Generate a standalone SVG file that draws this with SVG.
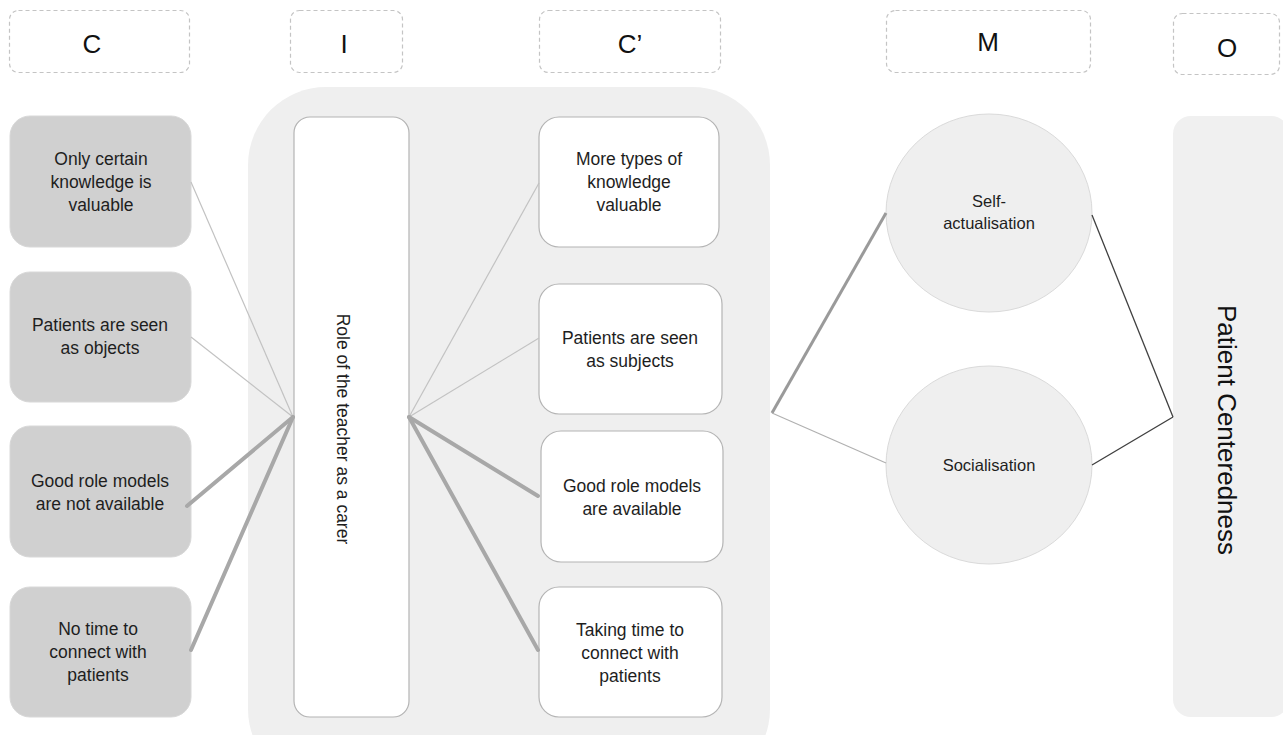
<svg xmlns="http://www.w3.org/2000/svg" width="1283" height="735" viewBox="0 0 1283 735">
<style>
.hdr{fill:#fff;stroke:#c4c4c4;stroke-width:1.2;stroke-dasharray:4 3}
.hdrt{font-family:"Liberation Sans",Arial,sans-serif;font-size:26px;fill:#111;text-anchor:middle}
.cbox{fill:#d0d0d0;stroke:#d8d8d8;stroke-width:1}
.wbox{fill:#fff;stroke:#b4b4b4;stroke-width:1.2}
.t{font-family:"Liberation Sans",Arial,sans-serif;font-size:17.5px;fill:#1e1e1e;text-anchor:middle}
.tm{font-family:"Liberation Sans",Arial,sans-serif;font-size:16.5px;fill:#1e1e1e;text-anchor:middle}
.circ{fill:#efefef;stroke:#dadada;stroke-width:1}
.thin{stroke:#c2c2c2;stroke-width:1.2;fill:none}
.thick{stroke:#a8a8a8;stroke-width:4;fill:none;stroke-linecap:round}
.mthick{stroke:#9a9a9a;stroke-width:3;fill:none}
.mthin{stroke:#b0b0b0;stroke-width:1.2;fill:none}
.dark{stroke:#404040;stroke-width:1.3;fill:none}
</style>

<g id="headers">
  <g id="hdr-C"><rect class="hdr" x="9.5" y="10.5" width="180" height="62" rx="9"/><text class="hdrt" x="92" y="53">C</text></g>
  <g id="hdr-I"><rect class="hdr" x="290.5" y="10.5" width="112" height="62" rx="9"/><text class="hdrt" x="344" y="53">I</text></g>
  <g id="hdr-C2"><rect class="hdr" x="539.5" y="10.5" width="181" height="62" rx="9"/><text class="hdrt" x="630" y="53">C’</text></g>
  <g id="hdr-M"><rect class="hdr" x="886.5" y="10.5" width="204" height="62" rx="9"/><text class="hdrt" x="988" y="51">M</text></g>
  <g id="hdr-O"><rect class="hdr" x="1173.5" y="13.5" width="106" height="61" rx="9"/><text class="hdrt" x="1227" y="57">O</text></g>
</g>

<g id="panel">
  <rect x="248" y="87" width="522" height="700" rx="78" fill="#efefef"/>
</g>

<g id="context">
  <g id="c1"><rect class="cbox" x="10" y="116" width="181" height="131" rx="20"/>
    <text class="t" x="101" y="165">Only certain</text><text class="t" x="101" y="188">knowledge is</text><text class="t" x="101" y="211">valuable</text></g>
  <g id="c2"><rect class="cbox" x="10" y="272" width="181" height="130" rx="20"/>
    <text class="t" x="100" y="331">Patients are seen</text><text class="t" x="100" y="354">as objects</text></g>
  <g id="c3"><rect class="cbox" x="10" y="426" width="181" height="131" rx="20"/>
    <text class="t" x="100" y="487">Good role models</text><text class="t" x="100" y="510">are not available</text></g>
  <g id="c4"><rect class="cbox" x="10" y="587" width="181" height="130" rx="20"/>
    <text class="t" x="98" y="635">No time to</text><text class="t" x="98" y="658">connect with</text><text class="t" x="98" y="681">patients</text></g>
</g>

<g id="intervention">
  <rect class="wbox" x="294" y="117" width="115" height="600" rx="16"/>
  <text class="t" font-size="18.5" x="343" y="429" transform="rotate(90 343 429)" dominant-baseline="central">Role of the  teacher as a carer</text>
</g>

<g id="newcontext">
  <g id="cp1"><rect class="wbox" x="539" y="117" width="180" height="130" rx="20"/>
    <text class="t" x="629" y="165">More types of</text><text class="t" x="629" y="188">knowledge</text><text class="t" x="629" y="211">valuable</text></g>
  <g id="cp2"><rect class="wbox" x="539" y="284" width="183" height="130" rx="20"/>
    <text class="t" x="630" y="344">Patients are seen</text><text class="t" x="630" y="367">as subjects</text></g>
  <g id="cp3"><rect class="wbox" x="541" y="431" width="182" height="131" rx="20"/>
    <text class="t" x="632" y="492">Good role models</text><text class="t" x="632" y="515">are available</text></g>
  <g id="cp4"><rect class="wbox" x="539" y="587" width="183" height="130" rx="20"/>
    <text class="t" x="630" y="636">Taking time to</text><text class="t" x="630" y="659">connect with</text><text class="t" x="630" y="682">patients</text></g>
</g>

<g id="mechanisms">
  <g id="m1"><ellipse class="circ" cx="989" cy="213" rx="103" ry="99"/>
    <text class="tm" x="989" y="207">Self-</text><text class="tm" x="989" y="229">actualisation</text></g>
  <g id="m2"><ellipse class="circ" cx="989" cy="465" rx="103" ry="99"/>
    <text class="tm" x="989" y="471">Socialisation</text></g>
</g>

<g id="outcome">
  <rect x="1173" y="116" width="116" height="601" rx="18" fill="#f0f0f0"/>
  <text font-family="'Liberation Sans',Arial,sans-serif" font-size="26" fill="#111" text-anchor="middle" dominant-baseline="central" x="1227" y="430" transform="rotate(90 1227 430)">Patient Centeredness</text>
</g>

<g id="connectors">
  <line class="thin" x1="191" y1="182" x2="293" y2="417"/>
  <line class="thin" x1="191" y1="337" x2="293" y2="417"/>
  <line class="thick" x1="187" y1="506" x2="293" y2="417"/>
  <line class="thick" x1="191" y1="650" x2="293" y2="417"/>
  <line class="thin" x1="409" y1="417" x2="539" y2="183"/>
  <line class="thin" x1="409" y1="417" x2="539" y2="338"/>
  <line class="thick" x1="409" y1="417" x2="538" y2="496"/>
  <line class="thick" x1="409" y1="417" x2="538" y2="650"/>
  <line class="mthick" x1="772" y1="413" x2="886" y2="213"/>
  <line class="mthin" x1="772" y1="413" x2="886" y2="463"/>
  <line class="dark" x1="1092" y1="215" x2="1173" y2="417"/>
  <line class="dark" x1="1092" y1="465" x2="1173" y2="417"/>
</g>
</svg>
